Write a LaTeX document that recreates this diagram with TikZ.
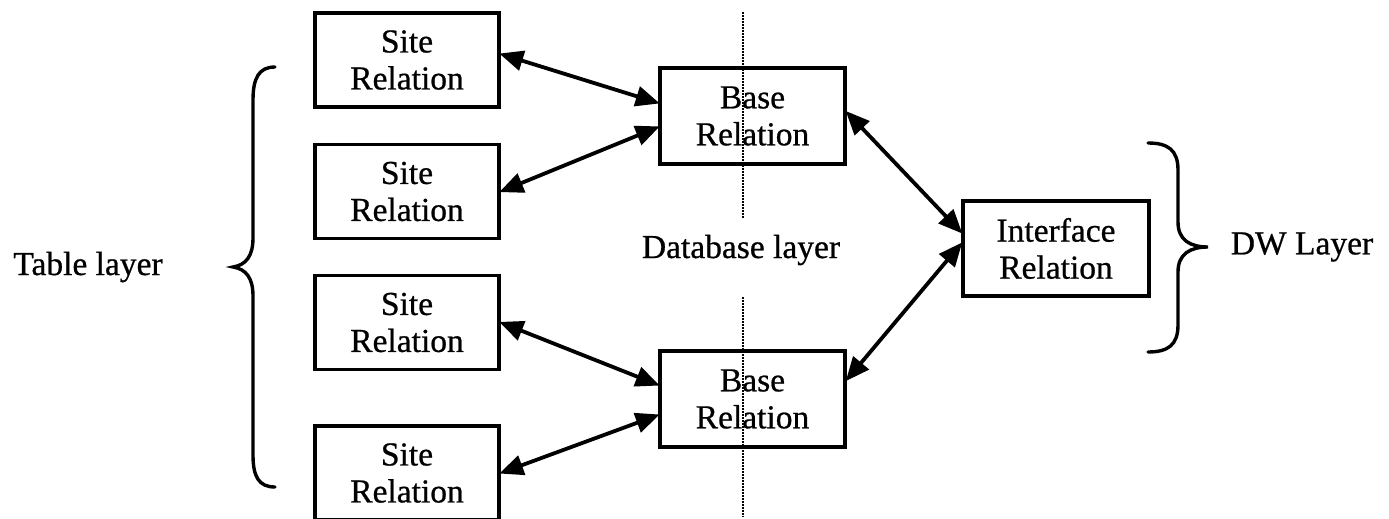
\documentclass[tikz,border=0pt]{standalone}
\usepackage{fontspec}
\setmainfont{Liberation Serif}
\newfontfamily\relfont{Liberation Serif}[FakeBold=0.7]
\usetikzlibrary{arrows.meta}
\begin{document}
\begin{tikzpicture}[x=1pt,y=-1pt,
  every node/.style={font=\relfont\fontsize{33.5}{37}\selectfont},
  relbox/.style={draw,line width=3.4pt,align=center,inner sep=0pt},
  sitebox/.style={relbox,minimum width=184pt,minimum height=94pt},
  basebox/.style={relbox,minimum width=185pt,minimum height=96pt},
  link/.style={line width=3.8pt,{Triangle[length=24pt,width=20pt]}-{Triangle[length=24pt,width=20pt]},shorten <=-1.5pt,shorten >=-1.5pt},
  divider/.style={line width=2.2pt,dash pattern=on 1.8pt off 1.2pt},
  bracket/.style={line width=3.4pt,line cap=round}
]
\useasboundingbox (0,0) rectangle (1389,519);

% table layer: site relations
\node[sitebox] (s1) at (407,60) {Site\\Relation};
\node[sitebox] (s2) at (407,191.5) {Site\\Relation};
\node[sitebox] (s3) at (407,322.5) {Site\\Relation};
\node[sitebox] (s4) at (407,473) {Site\\Relation};

% database layer: base relations
\node[basebox] (b1) at (752.5,116) {Base\\Relation};
\node[basebox] (b2) at (752.5,399) {Base\\Relation};

% dividing line through the database layer
\coordinate (d1) at (743,12);
\coordinate (d2) at (743,218);
\coordinate (d3) at (743,297);
\coordinate (d4) at (743,517);
\draw[divider] (d1) -- (d2);
\draw[divider] (d3) -- (d4);

% DW layer: interface relation
\node[relbox,minimum width=186pt,minimum height=95pt] (ir) at (1056,248.5) {Interface\\Relation};

% layer labels
\node (tl) at (88,267) {Table layer};
\node (dl) at (741,250) {Database layer};
\node (dw) at (1302,247) {DW Layer};

% links between relations
\draw[link] ([yshift=6pt]s1.east) -- ([yshift=13pt]b1.west);
\draw[link] (s2.east) -- ([yshift=-11pt]b1.west);
\draw[link] (s3.east) -- ([yshift=14pt]b2.west);
\draw[link] (s4.east) -- ([yshift=-16pt]b2.west);
\draw[link] ([yshift=4pt]b1.east) -- ([yshift=16pt]ir.west);
\draw[link] ([yshift=19pt]b2.east) -- ([yshift=5pt]ir.west);

% braces grouping the layers
\draw[bracket] (275,67) .. controls (259,67) and (253,78) .. (253,100)
  -- (253,238) .. controls (253,256) and (246,265) .. (233,267)
  .. controls (246,269) and (253,278) .. (253,296)
  -- (253,455) .. controls (253,477) and (259,487) .. (275,487);
\draw[bracket] (1148,143) .. controls (1168,143) and (1178,150) .. (1178,170)
  -- (1178,222) .. controls (1178,240) and (1190,247) .. (1208,247)
  .. controls (1190,247) and (1178,254) .. (1178,272)
  -- (1178,325) .. controls (1178,345) and (1168,352) .. (1148,352);
\end{tikzpicture}
\end{document}
